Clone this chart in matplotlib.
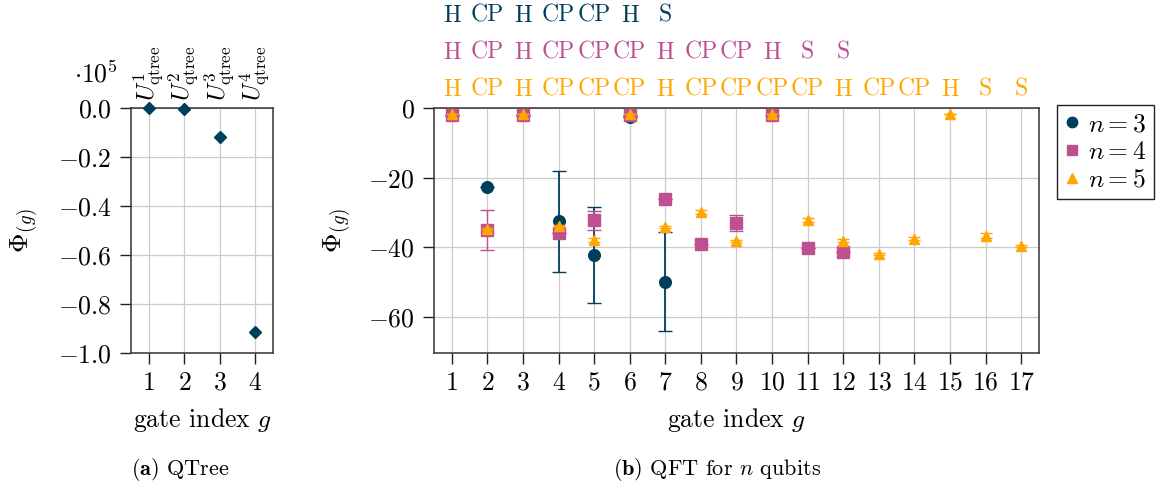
import numpy as np
import matplotlib
matplotlib.use("Agg")
import matplotlib.pyplot as plt
from matplotlib.lines import Line2D

plt.rcParams['font.family'] = 'serif'
plt.rcParams['font.serif'] = ['cmr10']
plt.rcParams['mathtext.fontset'] = 'cm'
plt.rcParams['axes.formatter.use_mathtext'] = True

# === data ===
# (a) QTree
gates_qtree = [1, 2, 3, 4]
phi_qtree = [-200, -500, -11700, -91400]
labels_qtree = [r'$U^{1}_{\mathrm{qtree}}$', r'$U^{2}_{\mathrm{qtree}}$',
                r'$U^{3}_{\mathrm{qtree}}$', r'$U^{4}_{\mathrm{qtree}}$']

# (b) QFT
gates_n3 = [1, 2, 3, 4, 5, 6, 7]
phi_n3 = [-2.0, -22.6, -2.0, -32.5, -42.2, -2.6, -49.9]
err_n3 = [0, 0, 0, 14.5, 13.7, 0, 14.2]
ops_n3 = ['H', 'CP', 'H', 'CP', 'CP', 'H', 'S']

gates_n4 = [1, 2, 3, 4, 5, 6, 7, 8, 9, 10, 11, 12]
phi_n4 = [-2.0, -35.0, -2.0, -36.0, -32.2, -2.0, -26.2, -38.9, -32.9, -2.0, -40.1, -41.4]
err_n4 = [0, 5.8, 0, 0, 2.7, 0, 0, 0, 2.3, 0, 0, 0]
ops_n4 = ['H', 'CP', 'H', 'CP', 'CP', 'CP', 'H', 'CP', 'CP', 'H', 'S', 'S']

gates_n5 = [1, 2, 3, 4, 5, 6, 7, 8, 9, 10, 11, 12, 13, 14, 15, 16, 17]
phi_n5 = [-1.8, -34.6, -1.8, -33.9, -37.9, -1.8, -34.1, -29.8, -38.1, -1.8,
          -32.2, -38.1, -41.8, -37.5, -1.8, -36.6, -39.7]
err_n5 = [0, 0.3, 0, 0.3, 0.5, 0, 0.3, 0.5, 0.3, 0, 0.6, 0.4, 0.3, 0.4, 0, 0.6, 0.3]
ops_n5 = ['H', 'CP', 'H', 'CP', 'CP', 'CP', 'H', 'CP', 'CP', 'CP', 'CP', 'H',
          'CP', 'CP', 'H', 'S', 'S']

C3 = '#003f5c'
C4 = '#bc5090'
C5 = '#ffa600'
FS = 18.5
FS_SMALL = 16

fig = plt.figure(figsize=(11.67, 4.84), dpi=100)
ax1 = fig.add_axes([0.1123, 0.2707, 0.1217, 0.5062])
ax2 = fig.add_axes([0.3719, 0.2707, 0.5184, 0.5062])


def style_axes(ax):
    for s in ax.spines.values():
        s.set_color('#333333')
        s.set_linewidth(1.1)
    ax.grid(True, color='#cccccc', linewidth=0.9)
    ax.set_axisbelow(True)
    ax.tick_params(direction='out', length=8, width=1.0, color='#222222',
                   labelsize=FS, top=False, right=False)
    ax.tick_params(axis='y', pad=6)
    ax.tick_params(axis='x', pad=5)


# === (a) QTree ===
style_axes(ax1)
ax1.plot(gates_qtree, np.array(phi_qtree) / 1e5, 'D', color=C3,
         markersize=6.2, clip_on=False, zorder=5)
ax1.set_xlim(0.5, 4.5)
ax1.set_ylim(-1.0, 0.0)
ax1.set_xticks(gates_qtree)
ax1.set_yticks([0.0, -0.2, -0.4, -0.6, -0.8, -1.0])
ax1.set_xlabel(r'gate index $g$', fontsize=FS, labelpad=8)
ax1.set_ylabel(r'$\Phi_{(g)}$', fontsize=FS + 1, labelpad=13)
ax1.text(-0.09, 1.106, r'$\cdot 10^{5}$', transform=ax1.transAxes,
         ha='right', va='baseline', fontsize=FS)
for g, lab in zip(gates_qtree, labels_qtree):
    ax1.text(g, 1.03, lab, transform=ax1.get_xaxis_transform(), rotation=90,
             ha='center', va='bottom', fontsize=17.5)

# === (b) QFT ===
style_axes(ax2)
ax2.errorbar(gates_n3, phi_n3, yerr=err_n3, fmt='o', color=C3, ecolor=C3,
             markersize=8.4, elinewidth=1.3, capsize=5, capthick=1.0,
             clip_on=False, zorder=3)
ax2.errorbar(gates_n4, phi_n4, yerr=err_n4, fmt='s', color=C4, ecolor=C4,
             markersize=8.4, elinewidth=1.0, capsize=5, capthick=1.0,
             clip_on=False, zorder=4)
ax2.errorbar(gates_n5, phi_n5, yerr=err_n5, fmt='^', color=C5, ecolor=C5,
             markersize=7.5, elinewidth=1.0, capsize=4, capthick=1.0,
             clip_on=False, zorder=5)
ax2.set_xlim(0.5, 17.5)
ax2.set_ylim(-70.3, 0)
ax2.set_xticks(gates_n5)
ax2.set_yticks([0, -20, -40, -60])
ax2.set_xlabel(r'gate index $g$', fontsize=FS, labelpad=8)
ax2.set_ylabel(r'$\Phi_{(g)}$', fontsize=FS + 1, labelpad=11)

# gate names above the plot
rows = [(ops_n3, gates_n3, C3, 1.352), (ops_n4, gates_n4, C4, 1.200),
        (ops_n5, gates_n5, C5, 1.049)]
for ops, gates, col, yy in rows:
    for g, op in zip(gates, ops):
        ax2.text(g, yy, op, transform=ax2.get_xaxis_transform(), color=col,
                 ha='center', va='baseline', fontsize=17)

handles = [Line2D([], [], marker='o', color=C3, linestyle='none', markersize=7.5),
           Line2D([], [], marker='s', color=C4, linestyle='none', markersize=7.5),
           Line2D([], [], marker='^', color=C5, linestyle='none', markersize=7)]
leg = ax2.legend(handles, [r'$n=3$', r'$n=4$', r'$n=5$'], loc='upper left',
                 bbox_to_anchor=(0.9057, 0.783), bbox_transform=fig.transFigure,
                 borderaxespad=0, fontsize=FS, fancybox=False, framealpha=1,
                 edgecolor='#222222', handlelength=0.6, handletextpad=0.3,
                 labelspacing=0.15, borderpad=0.3)
leg.get_frame().set_linewidth(1.0)

# captions
fig.text(131 / 1167, 0.018, r'$\mathbf{(a)}$ QTree', ha='left', va='baseline',
         fontsize=FS_SMALL)
fig.text(717 / 1167, 0.018, r'$\mathbf{(b)}$ QFT for $n$ qubits', ha='center',
         va='baseline', fontsize=FS_SMALL)

fig.savefig('out.png', dpi=100)
